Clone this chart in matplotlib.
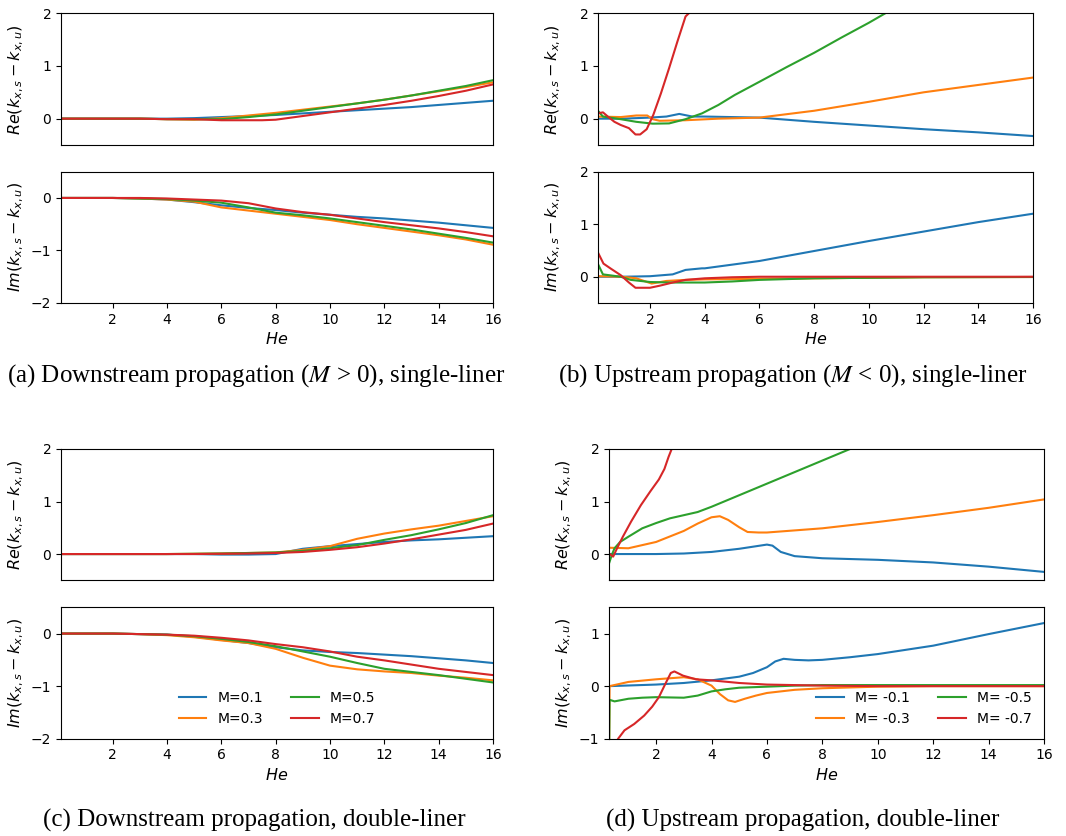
import matplotlib
matplotlib.use("Agg")
import matplotlib.pyplot as plt

W, H = 1066, 836
colors = ["#1f77b4", "#ff7f0e", "#2ca02c", "#d62728"]
labels_down = ["M=0.1", "M=0.3", "M=0.5", "M=0.7"]
labels_up = ["M= -0.1", "M= -0.3", "M= -0.5", "M= -0.7"]
xticks = [2, 4, 6, 8, 10, 12, 14, 16]

# ---------------- (a) downstream single-liner ----------------
a_x = [0.1, 1, 2, 3, 4, 5, 6, 7, 7.5, 8, 9, 10, 11, 12, 13, 14, 15, 16]
a_re_blue = [0, 0, 0, 0, 0, 0.01, 0.03, 0.05, 0.06, 0.07, 0.10, 0.13, 0.16, 0.19, 0.22, 0.26, 0.30, 0.34]
a_re_orange = [0, 0, 0, 0, -0.01, -0.02, 0.01, 0.06, 0.085, 0.11, 0.17, 0.23, 0.29, 0.36, 0.44, 0.52, 0.60, 0.69]
a_re_green = [0, 0, 0, 0, -0.01, -0.01, -0.01, 0.03, 0.055, 0.08, 0.15, 0.22, 0.29, 0.36, 0.44, 0.53, 0.62, 0.73]
a_re_red = [0, 0, 0, 0, -0.01, -0.01, -0.03, -0.03, -0.03, -0.02, 0.05, 0.12, 0.19, 0.26, 0.34, 0.43, 0.53, 0.65]

a_im_blue = [0, 0, 0, -0.01, -0.03, -0.08, -0.14, -0.19, -0.21, -0.23, -0.28, -0.32, -0.36, -0.39, -0.43, -0.47, -0.52, -0.57]
a_im_orange = [0, 0, 0, -0.01, -0.03, -0.07, -0.18, -0.24, -0.27, -0.30, -0.36, -0.42, -0.50, -0.57, -0.64, -0.71, -0.79, -0.89]
a_im_green = [0, 0, 0, -0.01, -0.02, -0.05, -0.09, -0.18, -0.23, -0.28, -0.33, -0.39, -0.46, -0.53, -0.60, -0.68, -0.76, -0.85]
a_im_red = [0, 0, 0, 0, -0.01, -0.03, -0.05, -0.10, -0.15, -0.20, -0.27, -0.32, -0.39, -0.46, -0.52, -0.58, -0.65, -0.73]

# ---------------- (b) upstream single-liner ----------------
b_re_blue_x = [0.1, 1, 2, 2.6, 3.07, 3.55, 4, 6, 8, 10, 12, 14, 16]
b_re_blue = [0, 0, 0.02, 0.04, 0.09, 0.04, 0.04, 0.02, -0.06, -0.13, -0.20, -0.26, -0.33]
b_re_orange_x = [0.1, 0.93, 1.5, 1.9, 2.1, 2.35, 3.3, 4.5, 6, 8, 10, 12, 14, 16]
b_re_orange = [0.04, 0.03, 0.06, 0.06, -0.01, -0.04, -0.03, 0, 0.02, 0.15, 0.32, 0.50, 0.64, 0.78]
b_re_green_x = [0.1, 0.28, 0.93, 1.5, 2.1, 2.7, 3.3, 3.9, 4.5, 5.1, 6, 7, 8, 9, 10, 10.6, 11.2]
b_re_green = [0.15, 0.04, -0.01, -0.06, -0.095, -0.09, -0.01, 0.10, 0.26, 0.45, 0.70, 0.98, 1.25, 1.54, 1.82, 2.0, 2.17]
b_re_red_x = [0.1, 0.28, 0.46, 0.7, 0.93, 1.23, 1.47, 1.64, 1.88, 2.12, 2.4, 2.7, 3.0, 3.3, 3.42, 3.6]
b_re_red = [0.10, 0.12, 0.04, -0.06, -0.12, -0.18, -0.30, -0.30, -0.20, 0.07, 0.48, 0.96, 1.46, 1.94, 2.0, 2.2]

b_im_blue_x = [0.1, 1, 2, 2.83, 3.3, 3.9, 4, 6, 8, 10, 12, 14, 16]
b_im_blue = [0, 0, 0.01, 0.045, 0.13, 0.16, 0.16, 0.30, 0.49, 0.68, 0.86, 1.04, 1.20]
b_im_orange_x = [0.1, 1, 1.5, 2.06, 2.6, 3.3, 4, 6, 8, 10, 12, 16]
b_im_orange = [0.01, 0, -0.03, -0.13, -0.08, -0.06, -0.05, -0.04, -0.03, -0.02, -0.01, -0.005]
b_im_green_x = [0.1, 0.28, 0.93, 1.3, 2, 2.7, 4, 5, 6, 8, 10, 12, 16]
b_im_green = [0.24, 0.045, 0, -0.06, -0.10, -0.11, -0.11, -0.09, -0.06, -0.03, -0.02, -0.01, -0.005]
b_im_red_x = [0.1, 0.3, 0.58, 0.93, 1.23, 1.47, 2, 2.36, 2.83, 3.3, 4, 5, 6, 8, 16]
b_im_red = [0.46, 0.25, 0.15, 0.03, -0.11, -0.21, -0.21, -0.17, -0.11, -0.06, -0.03, -0.01, 0, 0, 0]

# ---------------- (c) downstream double-liner ----------------
c_x = [0.1, 1, 2, 3, 4, 5, 6, 7, 8, 9, 10, 11, 12, 13, 14, 15, 16]
c_re_blue = [0, 0, 0, 0, 0, 0, -0.01, -0.01, 0, 0.10, 0.15, 0.19, 0.23, 0.26, 0.28, 0.31, 0.34]
c_re_orange = [0, 0, 0, 0, 0, 0.005, 0.01, 0.02, 0.03, 0.08, 0.15, 0.29, 0.39, 0.47, 0.54, 0.63, 0.72]
c_re_green = [0, 0, 0, 0, 0, 0.005, 0.01, 0.02, 0.03, 0.06, 0.11, 0.17, 0.27, 0.36, 0.47, 0.59, 0.74]
c_re_red = [0, 0, 0, 0, 0, 0, 0.005, 0.01, 0.02, 0.04, 0.08, 0.13, 0.20, 0.28, 0.37, 0.46, 0.58]

c_im_blue = [0, 0, 0, -0.01, -0.02, -0.06, -0.12, -0.18, -0.26, -0.32, -0.35, -0.37, -0.40, -0.43, -0.47, -0.51, -0.56]
c_im_orange = [0, 0, 0, -0.01, -0.03, -0.07, -0.13, -0.18, -0.29, -0.46, -0.61, -0.68, -0.72, -0.75, -0.80, -0.84, -0.89]
c_im_green = [0, 0, 0, -0.01, -0.02, -0.05, -0.10, -0.16, -0.24, -0.34, -0.44, -0.56, -0.67, -0.73, -0.79, -0.86, -0.93]
c_im_red = [0, 0, 0, -0.01, -0.02, -0.04, -0.08, -0.13, -0.20, -0.26, -0.34, -0.44, -0.51, -0.59, -0.67, -0.73, -0.79]

# ---------------- (d) upstream double-liner ----------------
d_re_blue_x = [0.3, 1, 2, 3, 4, 5, 5.5, 6, 6.2, 6.5, 7, 7.5, 8, 10, 12, 14, 16]
d_re_blue = [0, 0, 0, 0.01, 0.04, 0.10, 0.14, 0.18, 0.16, 0.04, -0.04, -0.06, -0.08, -0.11, -0.16, -0.24, -0.34]
d_re_orange_x = [0.3, 1, 2, 3, 3.5, 4, 4.3, 4.6, 5, 5.3, 5.7, 6, 8, 10, 12, 14, 16]
d_re_orange = [0.12, 0.11, 0.23, 0.44, 0.58, 0.70, 0.72, 0.65, 0.51, 0.42, 0.41, 0.41, 0.49, 0.61, 0.74, 0.88, 1.04]
d_re_green_x = [0.3, 0.4, 0.5, 0.7, 1, 1.5, 2, 2.5, 3, 3.5, 4, 5, 6, 7, 8, 9, 9.5]
d_re_green = [-0.18, -0.02, 0.11, 0.23, 0.33, 0.49, 0.59, 0.68, 0.74, 0.80, 0.90, 1.12, 1.34, 1.56, 1.78, 2.0, 2.1]
d_re_red_x = [0.3, 0.45, 0.6, 0.8, 1.1, 1.45, 1.8, 2.1, 2.3, 2.45, 2.6, 2.7]
d_re_red = [0.01, -0.05, 0.12, 0.33, 0.62, 0.93, 1.20, 1.42, 1.62, 1.85, 2.05, 2.2]

d_im_blue_x = [0.3, 2, 3, 4, 5, 5.5, 6, 6.3, 6.6, 7, 7.5, 8, 9, 10, 12, 14, 16]
d_im_blue = [0, 0.03, 0.06, 0.11, 0.18, 0.25, 0.36, 0.47, 0.52, 0.50, 0.49, 0.50, 0.55, 0.61, 0.77, 0.99, 1.20]
d_im_orange_x = [0.3, 0.32, 1, 2, 2.5, 3, 3.5, 4, 4.3, 4.6, 4.85, 5.2, 5.6, 6, 7, 8, 10, 12, 16]
d_im_orange = [-1.5, 0.0, 0.08, 0.13, 0.15, 0.17, 0.13, 0.01, -0.15, -0.27, -0.30, -0.24, -0.18, -0.13, -0.07, -0.04, -0.01, 0, 0]
d_im_green_x = [0.3, 0.32, 0.5, 1, 1.5, 2, 3, 3.5, 4, 4.5, 5, 6, 7, 8, 16]
d_im_green = [-1.5, -0.26, -0.29, -0.24, -0.22, -0.21, -0.22, -0.18, -0.10, -0.06, -0.03, -0.01, 0.01, 0.02, 0.02]
d_im_red_x = [0.5, 0.63, 0.86, 1.21, 1.57, 1.86, 2.1, 2.33, 2.53, 2.66, 2.97, 3.44, 4, 5, 6, 8, 10, 16]
d_im_red = [-1.15, -1.0, -0.84, -0.72, -0.56, -0.39, -0.21, 0.04, 0.25, 0.28, 0.20, 0.13, 0.11, 0.06, 0.03, 0.01, 0, 0]

panels = {
    "a": dict(
        re=[(a_x, a_re_blue), (a_x, a_re_orange), (a_x, a_re_green), (a_x, a_re_red)],
        im=[(a_x, a_im_blue), (a_x, a_im_orange), (a_x, a_im_green), (a_x, a_im_red)],
    ),
    "b": dict(
        re=[(b_re_blue_x, b_re_blue), (b_re_orange_x, b_re_orange), (b_re_green_x, b_re_green), (b_re_red_x, b_re_red)],
        im=[(b_im_blue_x, b_im_blue), (b_im_orange_x, b_im_orange), (b_im_green_x, b_im_green), (b_im_red_x, b_im_red)],
    ),
    "c": dict(
        re=[(c_x, c_re_blue), (c_x, c_re_orange), (c_x, c_re_green), (c_x, c_re_red)],
        im=[(c_x, c_im_blue), (c_x, c_im_orange), (c_x, c_im_green), (c_x, c_im_red)],
    ),
    "d": dict(
        re=[(d_re_blue_x, d_re_blue), (d_re_orange_x, d_re_orange), (d_re_green_x, d_re_green), (d_re_red_x, d_re_red)],
        im=[(d_im_blue_x, d_im_blue), (d_im_orange_x, d_im_orange), (d_im_green_x, d_im_green), (d_im_red_x, d_im_red)],
    ),
}

# layout in pixels: left, right, re_top, re_bottom, im_top, im_bottom, xlim_left
layout = {
    "a": (61, 493, 13.3, 145, 171.7, 303, 0.1, (-2, 0.5), [-2, -1, 0]),
    "b": (598, 1033, 13.3, 145, 171.7, 303, 0.1, (-0.5, 2), [0, 1, 2]),
    "c": (61, 493, 449, 580.3, 607.3, 738.7, 0.1, (-2, 0.5), [-2, -1, 0]),
    "d": (609, 1044, 449, 580.3, 607.3, 738.7, 0.3, (-1, 1.5), [-1, 0, 1]),
}

captions = {
    "a": (256, 376, r"(a) Downstream propagation ($M$ > 0), single-liner"),
    "b": (793, 376, r"(b) Upstream propagation ($M$ < 0), single-liner"),
    "c": (254, 820, r"(c) Downstream propagation, double-liner"),
    "d": (803, 820, r"(d) Upstream propagation, double-liner"),
}

fig = plt.figure(figsize=(W / 100, H / 100), dpi=100)


def rect(l, r, t, b):
    return [l / W, 1 - b / H, (r - l) / W, (b - t) / H]


for key in ["a", "b", "c", "d"]:
    l, r, rt, rb, it, ib, x0, imlim, imticks = layout[key]
    ax_re = fig.add_axes(rect(l, r, rt, rb))
    ax_im = fig.add_axes(rect(l, r, it, ib))
    labs = labels_down if key in ("a", "c") else labels_up
    for (xs, ys), c in zip(panels[key]["re"], colors):
        ax_re.plot(xs, ys, color=c, lw=1.5)
    for (xs, ys), c, lab in zip(panels[key]["im"], colors, labs):
        ax_im.plot(xs, ys, color=c, lw=1.5, label=lab)
    ax_re.set_xlim(x0, 16)
    ax_im.set_xlim(x0, 16)
    ax_re.set_ylim(-0.5, 2)
    ax_re.set_yticks([0, 1, 2])
    ax_re.set_xticks([])
    ax_im.set_ylim(*imlim)
    ax_im.set_yticks(imticks)
    ax_im.set_xticks(xticks)
    ax_im.set_xlabel(r"$He$", fontsize=11.5, labelpad=3)
    ax_re.set_ylabel(r"$Re(k_{x,s}-k_{x,u})$", fontsize=11.5)
    ax_im.set_ylabel(r"$Im(k_{x,s}-k_{x,u})$", fontsize=11.5)
    off = -35 / (r - l)
    ax_re.yaxis.set_label_coords(off, 0.5)
    ax_im.yaxis.set_label_coords(off, 0.5)
    if key == "c":
        ax_im.legend(loc="lower center", ncol=2, frameon=False, fontsize=10)
    if key == "d":
        ax_im.legend(loc="lower right", ncol=2, frameon=False, fontsize=10)
    cx, cy, txt = captions[key]
    fig.text(cx / W, 1 - cy / H, txt, ha="center", va="center",
             fontsize=18, family="Liberation Serif", math_fontfamily="stix")

fig.savefig("out.png", dpi=100)
